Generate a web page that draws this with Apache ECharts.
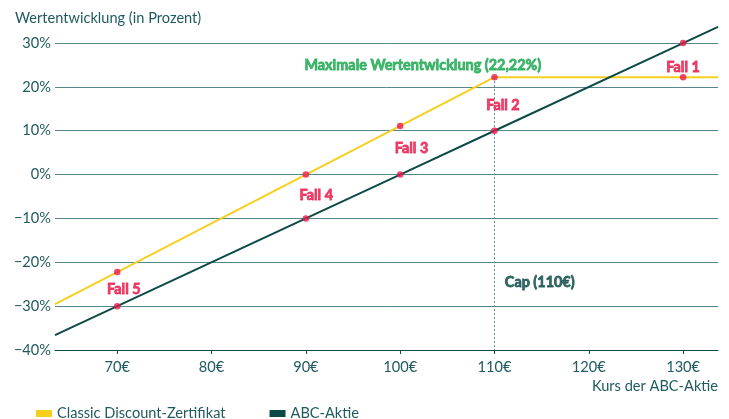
<!DOCTYPE html>
<html><head><meta charset="utf-8">
<script src="https://cdn.jsdelivr.net/npm/echarts@6/dist/echarts.min.js"></script>
<style>html,body{margin:0;padding:0;background:#fff}#c{width:729px;height:419px}</style>
</head><body><div id="c"></div>
<script>
const xMin = 63.4, xMax = 133.7;
const xTicks = [70, 80, 90, 100, 110, 120, 130];
const yTicks = [-40, -30, -20, -10, 0, 10, 20, 30];
const discountX = [63.4, 70, 90, 100, 110, 130, 133.7];
const discountY = [-29.56, -22.22, 0, 11.11, 22.22, 22.22, 22.22];
const abcX = [63.4, 70, 90, 100, 110, 130, 133.7];
const abcY = [-36.6, -30, -10, 0, 10, 30, 33.7];
const pointX = [70, 90, 100, 110, 130];
const discountPointY = [-22.22, 0, 11.11, 22.22, 22.22];
const abcPointY = [-30, -10, 0, 10, 30];
const caseNames = ['Fall 1', 'Fall 2', 'Fall 3', 'Fall 4', 'Fall 5'];
const caseLabelX = [130, 110.9, 101.2, 91.1, 70.7];
const caseLabelY = [24.5, 15.9, 5.9, -4.7, -26.1];
const capValue = 110, maxGain = 22.22;

const font = 'Lato, "Noto Sans", sans-serif';
const teal = '#1f5a5e';
const chart = echarts.init(document.getElementById('c'));
const zip = (a, b) => a.map((v, i) => [v, b[i]]);
chart.setOption({
  animation: false,
  textStyle: { fontFamily: font },
  grid: { left: 55, right: 11, top: 25.5, bottom: 69, containLabel: false },
  legend: {
    left: 31, top: 401, icon: 'rect', itemWidth: 16, itemHeight: 7, itemGap: 44,
    textStyle: { color: teal, fontSize: 14.6, fontFamily: font },
    data: ['Classic Discount-Zertifikat', 'ABC-Aktie']
  },
  xAxis: {
    type: 'value', min: function () { return xMin; }, max: function () { return xMax; },
    scale: true,
    name: 'Kurs der ABC-Aktie', nameLocation: 'end',
    nameGap: 0,
    nameTextStyle: { color: teal, fontSize: 14.6, align: 'right', verticalAlign: 'top', padding: [29, 0, 0, 0] },
    axisLine: { show: true, onZero: false, lineStyle: { color: '#0d4a4a', width: 1.2 } },
    axisTick: { show: true, length: 4, customValues: xTicks, lineStyle: { color: '#0d4a4a' } },
    axisLabel: { customValues: xTicks, color: teal, fontSize: 14.6, margin: 10, formatter: v => v + '€' },
    splitLine: { show: false }
  },
  yAxis: {
    type: 'value', min: -40, max: 34, interval: 10,
    name: 'Wertentwicklung (in Prozent)', nameLocation: 'end',
    nameGap: 0,
    nameTextStyle: { color: teal, fontSize: 14.6, align: 'left', padding: [0, 0, 0, -40], verticalAlign: 'bottom' },
    axisLine: { show: false }, axisTick: { show: false },
    axisLabel: { color: teal, fontSize: 14.6, margin: 4,
      formatter: v => (Math.round(v) % 10 === 0 && v <= 30) ? String(v).replace('-', '−') + '%' : '' },
    splitLine: { show: true, showMaxLine: false, lineStyle: { color: '#55878a', width: 1 } }
  },
  series: [
    {
      name: 'Classic Discount-Zertifikat', type: 'line', data: zip(discountX, discountY),
      showSymbol: false, color: '#f7cf1d', lineStyle: { width: 2 }, z: 3,
      markLine: {
        silent: true, symbol: 'none', label: { show: false },
        lineStyle: { type: [2, 2], color: '#5f8588', width: 1 },
        data: [[{ coord: [capValue, maxGain] }, { coord: [capValue, -40] }]]
      }
    },
    {
      name: 'ABC-Aktie', type: 'line', data: zip(abcX, abcY),
      showSymbol: false, color: '#0c4a47', lineStyle: { width: 2 }, z: 3
    },
    {
      type: 'scatter', symbolSize: 6.5, itemStyle: { color: '#e8194a' }, z: 5,
      data: zip(pointX, discountPointY).concat(zip(pointX, abcPointY))
    },
    {
      type: 'scatter', symbolSize: 0, z: 6, silent: true,
      label: { show: true, position: 'inside', formatter: p => p.name, color: '#e8194a',
        textBorderColor: '#e8194a', textBorderWidth: 0.8,
        fontWeight: 'bold', fontSize: 14.4, fontFamily: font },
      data: caseNames.map((n, i) => ({ name: n, value: [caseLabelX[i], caseLabelY[i]] })).concat([
        { name: 'Maximale Wertentwicklung (22,22%)', value: [102.4, 25.0], label: { color: '#1aa84f', textBorderColor: '#1aa84f' } },
        { name: 'Cap (110€)', value: [114.8, -24.5], label: { color: '#0c4a47', textBorderColor: '#0c4a47' } }
      ])
    }
  ]
});
</script></body></html>
